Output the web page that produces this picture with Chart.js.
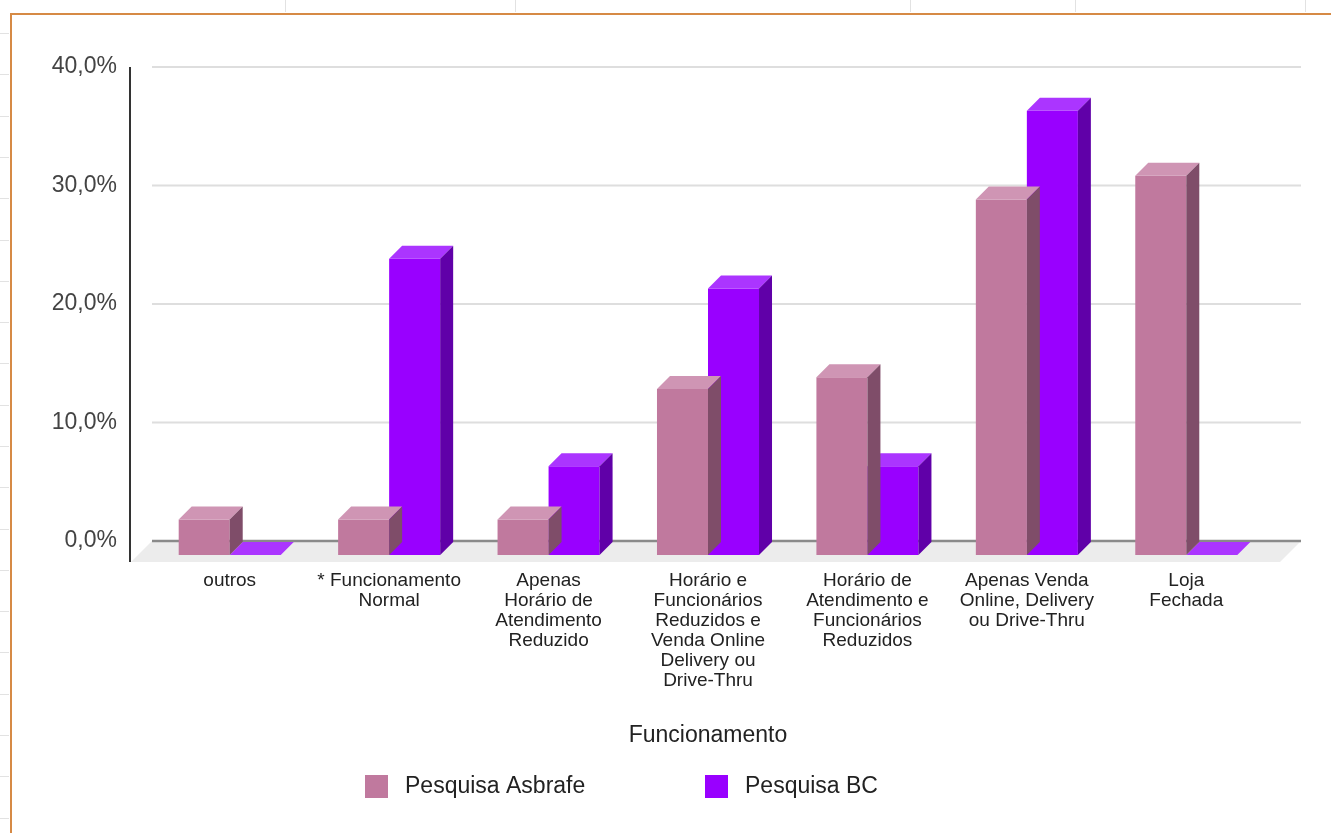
<!DOCTYPE html>
<html>
<head>
<meta charset="utf-8">
<script src="https://cdn.jsdelivr.net/npm/chart.js@4.4.1/dist/chart.umd.min.js"></script>
<style>
html,body{margin:0;padding:0;background:#fff;overflow:hidden;}
canvas{display:block;}
</style>
</head>
<body>
<canvas id="chart" width="1331" height="833"></canvas>
<script>
// dados do gráfico
var categories = [
	'outros',
	['* Funcionamento', 'Normal'],
	['Apenas', 'Horário de', 'Atendimento', 'Reduzido'],
	['Horário e', 'Funcionários', 'Reduzidos e', 'Venda Online', 'Delivery ou', 'Drive-Thru'],
	['Horário de', 'Atendimento e', 'Funcionários', 'Reduzidos'],
	['Apenas Venda', 'Online, Delivery', 'ou Drive-Thru'],
	['Loja', 'Fechada']
];
var seriesNames = ['Pesquisa Asbrafe', 'Pesquisa BC'];
var asbrafe = [3, 3, 3, 14, 15, 30, 32];
var bc = [0, 25, 7.5, 22.5, 7.5, 37.5, 0];
var yMax = 40;
var yStep = 10;
var axisTitle = 'Funcionamento';

var FONT = "'Liberation Sans', Arial, sans-serif";
var frontColors = ['#c0799e', '#9900ff'];
var topColors = ['#cf95b4', '#ab35ff'];
var sideColors = ['#7f4d69', '#6000a8'];
var DEPTH = 13;      // profundidade das barras
var GRID_DEPTH = 14; // plano de fundo das linhas de grade

// moldura da planilha
var framePlugin = {
	id: 'frame',
	beforeDraw: function(chart){
		var ctx = chart.ctx;
		ctx.save();
		ctx.fillStyle = '#fff';
		ctx.fillRect(0, 0, chart.width, chart.height);
		ctx.strokeStyle = '#e2e2e2';
		ctx.lineWidth = 1;
		for(var y = 33; y < chart.height; y += 41.3){
			ctx.beginPath(); ctx.moveTo(0, Math.round(y)+0.5); ctx.lineTo(9, Math.round(y)+0.5); ctx.stroke();
		}
		[285, 515, 910, 1075, 1305].forEach(function(x){
			ctx.beginPath(); ctx.moveTo(x+0.5, 0); ctx.lineTo(x+0.5, 12); ctx.stroke();
		});
		ctx.strokeStyle = '#d68a45';
		ctx.lineWidth = 2;
		ctx.beginPath();
		ctx.moveTo(11, chart.height);
		ctx.lineTo(11, 14);
		ctx.lineTo(chart.width, 14);
		ctx.stroke();
		ctx.restore();
	}
};

// piso, grade e eixo
var backPlugin = {
	id: 'back3d',
	beforeDatasetsDraw: function(chart){
		var ctx = chart.ctx, a = chart.chartArea, ys = chart.scales.y;
		var back = ys.getPixelForValue(0) - GRID_DEPTH;
		ctx.save();
		// piso
		ctx.fillStyle = '#ececec';
		ctx.beginPath();
		ctx.moveTo(a.left+2, back);
		ctx.lineTo(a.right+35, back);
		ctx.lineTo(a.right+14, a.bottom+7);
		ctx.lineTo(a.left-19, a.bottom+7);
		ctx.closePath();
		ctx.fill();
		// grade
		ctx.lineWidth = 2;
		for(var v = yStep; v <= yMax; v += yStep){
			var gy = ys.getPixelForValue(v) - GRID_DEPTH;
			ctx.strokeStyle = '#dedede';
			ctx.beginPath(); ctx.moveTo(a.left+2, gy); ctx.lineTo(a.right+35, gy); ctx.stroke();
		}
		ctx.strokeStyle = '#8a8a8a';
		ctx.lineWidth = 2.5;
		ctx.beginPath(); ctx.moveTo(a.left+2, back); ctx.lineTo(a.right+35, back); ctx.stroke();
		// eixo vertical
		ctx.strokeStyle = '#333';
		ctx.lineWidth = 2;
		ctx.beginPath();
		ctx.moveTo(a.left-20, ys.getPixelForValue(yMax) - GRID_DEPTH);
		ctx.lineTo(a.left-20, a.bottom+7);
		ctx.stroke();
		ctx.restore();
	},
	// topo e lateral de cada barra
	afterDatasetDraw: function(chart, args){
		var ctx = chart.ctx, i = args.index, d = DEPTH;
		ctx.save();
		args.meta.data.forEach(function(bar){
			var p = bar.getProps(['x', 'y', 'base', 'width'], true);
			var l = p.x - p.width/2, r = p.x + p.width/2;
			ctx.fillStyle = topColors[i];
			ctx.beginPath();
			ctx.moveTo(l, p.y); ctx.lineTo(r, p.y); ctx.lineTo(r+d, p.y-d); ctx.lineTo(l+d, p.y-d);
			ctx.closePath(); ctx.fill();
			if(p.base - p.y > 0.5){
				ctx.fillStyle = sideColors[i];
				ctx.beginPath();
				ctx.moveTo(r, p.y); ctx.lineTo(r+d, p.y-d); ctx.lineTo(r+d, p.base-d); ctx.lineTo(r, p.base);
				ctx.closePath(); ctx.fill();
			}
		});
		ctx.restore();
	},
	// legenda
	afterDraw: function(chart){
		var ctx = chart.ctx;
		var xs = [365, 705];
		ctx.save();
		ctx.font = '23px ' + FONT;
		ctx.textBaseline = 'middle';
		ctx.textAlign = 'left';
		chart.data.datasets.forEach(function(ds, k){
			ctx.fillStyle = ds.backgroundColor;
			ctx.fillRect(xs[k], 775, 23, 23);
			ctx.fillStyle = '#222';
			ctx.fillText(ds.label, xs[k]+40, 787);
		});
		ctx.restore();
	}
};

var ctx = document.getElementById('chart').getContext('2d');
var chart = new Chart(ctx, {
	type: 'bar',
	data: {
		labels: categories,
		datasets: [
			{label: seriesNames[0], data: asbrafe, backgroundColor: frontColors[0], borderWidth: 0},
			{label: seriesNames[1], data: bc, backgroundColor: frontColors[1], borderWidth: 0}
		]
	},
	plugins: [framePlugin, backPlugin],
	options: {
		responsive: false,
		animation: false,
		events: [],
		categoryPercentage: 0.64,
		barPercentage: 1.0,
		layout: {padding: {top: 81, right: 65, bottom: 0, left: 0}},
		plugins: {legend: {display: false}, tooltip: {enabled: false}},
		scales: {
			x: {
				grid: {display: false, drawTicks: false},
				border: {display: false},
				ticks: {
					autoSkip: false, maxRotation: 0, padding: 16,
					color: '#222', font: {family: FONT, size: 19, lineHeight: '20px'}
				},
				title: {
					display: true, text: axisTitle, color: '#222',
					font: {family: FONT, size: 23},
					padding: {top: 0, bottom: 84}
				},
				afterFit: function(s){ s.height = 278; }
			},
			y: {
				min: 0, max: yMax,
				grid: {display: false, drawTicks: false},
				border: {display: false},
				ticks: {
					stepSize: yStep, labelOffset: -GRID_DEPTH, padding: 33,
					color: '#444', font: {family: FONT, size: 23},
					callback: function(v){ return v.toFixed(1).replace('.', ',') + '%'; }
				},
				afterFit: function(s){ s.width = 150; }
			}
		}
	}
});
</script>
</body>
</html>
